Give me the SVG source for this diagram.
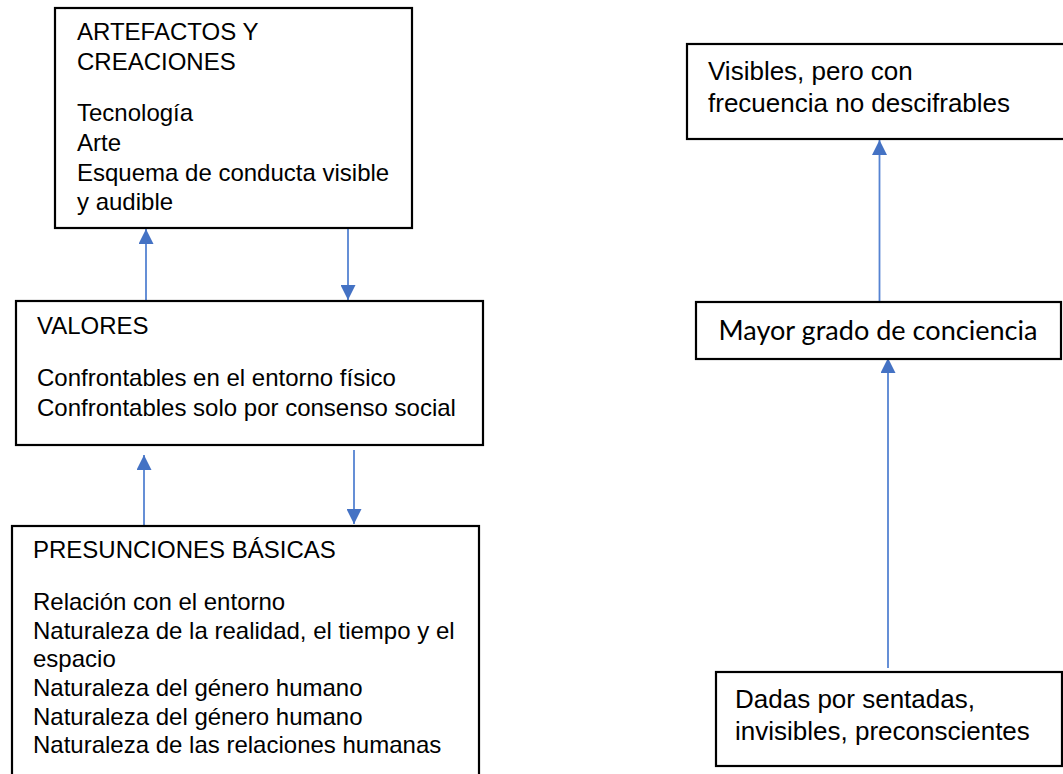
<svg xmlns="http://www.w3.org/2000/svg" width="1063" height="774" viewBox="0 0 1063 774">
<style>
.box{fill:#fff;stroke:#000;stroke-width:2.2}
.t{font-family:"Liberation Sans",Arial,sans-serif;font-size:24px;fill:#000}
.tr{font-family:"Liberation Sans",Arial,sans-serif;font-size:26px;fill:#000}
.tc{font-family:Lato,"Open Sans",sans-serif;font-size:27px;fill:#000}
.c{stroke:#5583d2;stroke-width:1.8;fill:none}
</style>
<defs>
<marker id="ah" markerUnits="userSpaceOnUse" markerWidth="15" markerHeight="15" refX="15" refY="7.5" viewBox="0 0 15 15" orient="auto">
<path d="M0,0 L15,7.5 L0,15 Z" fill="#4472C4"/>
</marker>
</defs>
<rect width="1063" height="774" fill="#fff"/>
<g id="connectors">
<line class="c" x1="146" y1="301" x2="146" y2="229" marker-end="url(#ah)"/>
<line class="c" x1="348" y1="228" x2="348" y2="300" marker-end="url(#ah)"/>
<line class="c" x1="144" y1="527" x2="144" y2="455" marker-end="url(#ah)"/>
<line class="c" x1="354" y1="450" x2="354" y2="524" marker-end="url(#ah)"/>
<line class="c" x1="879.5" y1="302" x2="879.5" y2="140" marker-end="url(#ah)"/>
<line class="c" x1="888" y1="668" x2="888" y2="358" marker-end="url(#ah)"/>
</g>
<g id="artefactos">
<rect class="box" x="55" y="8" width="357" height="220"/>
<text class="t" x="77" y="40">ARTEFACTOS Y</text>
<text class="t" x="77" y="70">CREACIONES</text>
<text class="t" x="77" y="121">Tecnología</text>
<text class="t" x="77" y="151">Arte</text>
<text class="t" x="77" y="181">Esquema de conducta visible</text>
<text class="t" x="77" y="210">y audible</text>
</g>
<g id="valores">
<rect class="box" x="16" y="301" width="467" height="144"/>
<text class="t" x="37" y="334">VALORES</text>
<text class="t" x="37" y="386">Confrontables en el entorno físico</text>
<text class="t" x="37" y="416">Confrontables solo por consenso social</text>
</g>
<g id="presunciones">
<rect class="box" x="12" y="526" width="467" height="260"/>
<text class="t" x="33" y="558">PRESUNCIONES BÁSICAS</text>
<text class="t" x="33" y="610">Relación con el entorno</text>
<text class="t" x="33" y="639">Naturaleza de la realidad, el tiempo y el</text>
<text class="t" x="33" y="667">espacio</text>
<text class="t" x="33" y="696">Naturaleza del género humano</text>
<text class="t" x="33" y="725">Naturaleza del género humano</text>
<text class="t" x="33" y="753">Naturaleza de las relaciones humanas</text>
</g>
<g id="visibles">
<rect class="box" x="687" y="44" width="400" height="95"/>
<text class="tr" x="708" y="80">Visibles, pero con</text>
<text class="tr" x="708" y="112">frecuencia no descifrables</text>
</g>
<g id="mayor">
<rect class="box" x="696" y="302" width="365" height="57"/>
<text class="tc" x="878" y="340" text-anchor="middle" textLength="319" lengthAdjust="spacingAndGlyphs">Mayor grado de conciencia</text>
</g>
<g id="dadas">
<rect class="box" x="716" y="672" width="346" height="94"/>
<text class="tr" x="735" y="708">Dadas por sentadas,</text>
<text class="tr" x="735" y="740">invisibles, preconscientes</text>
</g>
</svg>
